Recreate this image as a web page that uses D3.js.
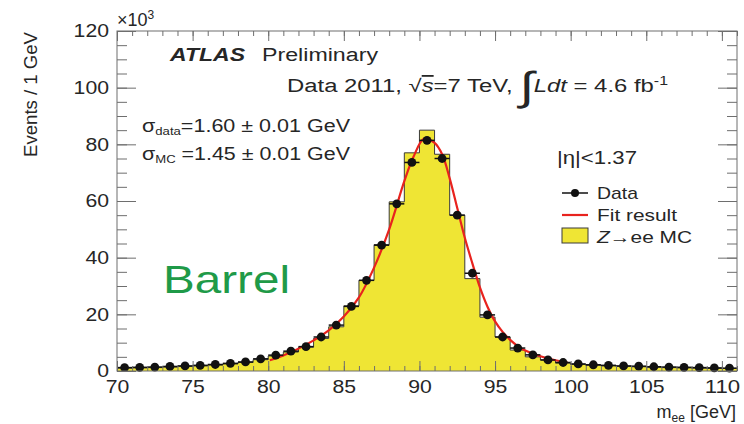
<!DOCTYPE html>
<html>
<head>
<meta charset="utf-8">
<script src="https://cdn.jsdelivr.net/npm/d3@7"></script>
<style>
  body { margin: 0; background: #fff; }
  svg { display: block; }
  text { font-family: "Liberation Sans", Arial, sans-serif; fill: #262626; }
</style>
</head>
<body>
<div id="chart"></div>
<script>
// bin centres of the 1 GeV histogram (m_ee in GeV)
const massBins = [70.5, 71.5, 72.5, 73.5, 74.5, 75.5, 76.5, 77.5, 78.5, 79.5,
    80.5, 81.5, 82.5, 83.5, 84.5, 85.5, 86.5, 87.5, 88.5, 89.5,
    90.5, 91.5, 92.5, 93.5, 94.5, 95.5, 96.5, 97.5, 98.5, 99.5,
    100.5, 101.5, 102.5, 103.5, 104.5, 105.5, 106.5, 107.5, 108.5, 109.5, 110.5];

// events per bin, x10^3
const dataCounts = [1.2, 1.3, 1.4, 1.6, 1.8, 2.0, 2.3, 2.7, 3.2, 4.3,
    5.6, 7.0, 8.6, 12.0, 16.2, 22.8, 32.0, 44.4, 59.0, 73.6,
    81.4, 75.0, 55.0, 34.5, 19.8, 12.0, 8.1, 5.7, 3.9, 3.0,
    2.5, 2.2, 2.0, 1.8, 1.7, 1.5, 1.4, 1.3, 1.2, 1.1, 1.0];

const mcCounts = [1.0, 1.1, 1.2, 1.4, 1.6, 1.8, 2.1, 2.5, 3.0, 4.0,
    5.3, 6.7, 8.4, 11.5, 15.6, 23.0, 32.0, 44.6, 59.7, 77.0,
    85.0, 76.5, 55.0, 32.6, 19.0, 12.0, 7.4, 5.0, 3.9, 2.8,
    2.3, 2.0, 1.8, 1.6, 1.5, 1.3, 1.2, 1.1, 1.0, 0.9, 0.9];

// fit curve
const fitMass   = [80.1, 81, 82, 83, 84, 85, 86, 87, 88, 89, 89.6, 90.3, 91, 91.5,
    92, 92.5, 93, 93.5, 94, 94.5, 95, 95.5, 96, 96.5, 97, 98, 99, 99.8];
const fitValues = [3.8, 5.5, 7.9, 10.8, 14.3, 19.2, 26.0, 36.5, 50.0, 67.0, 75.5, 82.0, 80.5, 76.5,
    68.0, 57.5, 47.0, 38.0, 29.5, 22.7, 17.5, 13.8, 11.0, 8.8, 7.2, 5.2, 3.8, 3.0];

const xMajorTicks = [70, 75, 80, 85, 90, 95, 100, 105, 110];
const yMajorTicks = [0, 20, 40, 60, 80, 100, 120];

const W = 744, H = 424;
const frame = {left: 117, right: 737, top: 31, bottom: 371};
const yellow = "#efe534";

const svg = d3.select("#chart").append("svg")
    .attr("width", W)
    .attr("height", H);

const x = d3.scaleLinear().domain([70, 111]).range([frame.left, frame.right]);
const y = d3.scaleLinear().domain([0, 120]).range([frame.bottom, frame.top]);

// MC histogram (filled step)
const histPts = [];
massBins.forEach((c, i) => {
    histPts.push([c - 0.5, mcCounts[i]]);
    histPts.push([c + 0.5, mcCounts[i]]);
});
const area = d3.area()
    .x(d => x(d[0]))
    .y0(y(0))
    .y1(d => y(d[1]));
svg.append("path")
    .attr("d", area(histPts))
    .attr("fill", yellow)
    .attr("stroke", "none");
svg.append("path")
    .attr("d", d3.line().x(d => x(d[0])).y(d => y(d[1]))(histPts))
    .attr("fill", "none")
    .attr("stroke", "#3a3a3a")
    .attr("stroke-width", 1);

// fit curve
svg.append("path")
    .datum(fitMass.map((m, i) => [m, fitValues[i]]))
    .attr("d", d3.line().x(d => x(d[0])).y(d => y(d[1])).curve(d3.curveCatmullRom))
    .attr("fill", "none")
    .attr("stroke", "#e8231e")
    .attr("stroke-width", 2.2);

// data points with bin-width bars
const pts = svg.append("g");
massBins.forEach((c, i) => {
    pts.append("line")
        .attr("x1", x(c - 0.5)).attr("x2", x(c + 0.5))
        .attr("y1", y(dataCounts[i])).attr("y2", y(dataCounts[i]))
        .attr("stroke", "#111").attr("stroke-width", 1.5);
    pts.append("circle")
        .attr("cx", x(c)).attr("cy", y(dataCounts[i]))
        .attr("r", 4.4)
        .attr("fill", "#111");
});

// axes
const axisColor = "#6e6e6e";
function styleAxis(g) {
    g.select(".domain").remove();
    g.selectAll("line").attr("stroke", axisColor);
    g.selectAll("text")
        .style("font-size", "18px")
        .attr("fill", "#262626")
        .attr("textLength", d => String(d).length * 11.8)
        .attr("lengthAdjust", "spacingAndGlyphs");
}
const xMinor = d3.range(70, 112, 1);
const yMinor = d3.range(0, 121, 5);

svg.append("g").attr("transform", `translate(0,${frame.bottom})`)
    .call(d3.axisBottom(x).tickValues(xMinor).tickSize(-5).tickFormat(""))
    .call(styleAxis);
svg.append("g").attr("transform", `translate(0,${frame.bottom})`)
    .call(d3.axisBottom(x).tickValues(xMajorTicks).tickSize(-10).tickPadding(9).tickFormat(d3.format("d")))
    .call(styleAxis);
svg.append("g").attr("transform", `translate(0,${frame.top})`)
    .call(d3.axisTop(x).tickValues(xMinor).tickSize(-5).tickFormat(""))
    .call(styleAxis);
svg.append("g").attr("transform", `translate(0,${frame.top})`)
    .call(d3.axisTop(x).tickValues(xMajorTicks).tickSize(-10).tickFormat(""))
    .call(styleAxis);

svg.append("g").attr("transform", `translate(${frame.left},0)`)
    .call(d3.axisLeft(y).tickValues(yMinor).tickSize(-10).tickFormat(""))
    .call(styleAxis);
svg.append("g").attr("transform", `translate(${frame.left},0)`)
    .call(d3.axisLeft(y).tickValues(yMajorTicks).tickSize(-19).tickPadding(8).tickFormat(d3.format("d")))
    .call(styleAxis);
svg.append("g").attr("transform", `translate(${frame.right},0)`)
    .call(d3.axisRight(y).tickValues(yMinor).tickSize(-10).tickFormat(""))
    .call(styleAxis);
svg.append("g").attr("transform", `translate(${frame.right},0)`)
    .call(d3.axisRight(y).tickValues(yMajorTicks).tickSize(-19).tickFormat(""))
    .call(styleAxis);

svg.append("rect")
    .attr("x", frame.left).attr("y", frame.top)
    .attr("width", frame.right - frame.left)
    .attr("height", frame.bottom - frame.top)
    .attr("fill", "none")
    .attr("stroke", axisColor)
    .attr("stroke-width", 1);

// helper: stretch text to the width measured on the reference
function fit(sel, w) {
    return sel.attr("textLength", w).attr("lengthAdjust", "spacingAndGlyphs");
}

// axis titles
svg.append("text")
    .attr("transform", `translate(37,${frame.top + 1}) rotate(-90)`)
    .attr("text-anchor", "end")
    .style("font-size", "18px")
    .call(fit, 125)
    .text("Events / 1 GeV");

const xt = svg.append("text")
    .attr("x", 736).attr("y", 418)
    .attr("text-anchor", "end")
    .style("font-size", "18px");
xt.append("tspan").text("m");
xt.append("tspan").attr("baseline-shift", "-30%").style("font-size", "12px").text("ee");
xt.append("tspan").text(" [GeV]");

const exp = svg.append("text")
    .attr("x", 117).attr("y", 26)
    .style("font-size", "18px");
exp.append("tspan").text("×10");
exp.append("tspan").attr("baseline-shift", "55%").style("font-size", "12px").text("3");

// labels
svg.append("text")
    .attr("x", 170).attr("y", 60.5)
    .style("font-size", "18px")
    .style("font-weight", "bold")
    .style("font-style", "italic")
    .call(fit, 75)
    .text("ATLAS");
svg.append("text")
    .attr("x", 262).attr("y", 60.5)
    .style("font-size", "18px")
    .call(fit, 116)
    .text("Preliminary");

const lumi = svg.append("text")
    .attr("x", 287).attr("y", 92)
    .style("font-size", "18px")
    .call(fit, 381);
lumi.append("tspan").text("Data 2011, √");
lumi.append("tspan").style("font-style", "italic").style("text-decoration", "overline").text("s");
lumi.append("tspan").text("=7 TeV, ");
lumi.append("tspan").style("font-size", "40px").attr("dy", 8).text("∫");
lumi.append("tspan").attr("dy", -8).style("font-style", "italic").text("Ldt");
lumi.append("tspan").text(" = 4.6 fb");
lumi.append("tspan").attr("baseline-shift", "55%").style("font-size", "12px").text("-1");

const sd = svg.append("text")
    .attr("x", 142).attr("y", 132)
    .style("font-size", "18px")
    .call(fit, 208);
sd.append("tspan").text("σ");
sd.append("tspan").attr("baseline-shift", "-30%").style("font-size", "11px").text("data");
sd.append("tspan").text("=1.60 ± 0.01 GeV");

const sm = svg.append("text")
    .attr("x", 142).attr("y", 160)
    .style("font-size", "18px")
    .call(fit, 208);
sm.append("tspan").text("σ");
sm.append("tspan").attr("baseline-shift", "-30%").style("font-size", "11px").text("MC");
sm.append("tspan").text(" =1.45 ± 0.01 GeV");

svg.append("text")
    .attr("x", 557).attr("y", 164)
    .style("font-size", "18px")
    .call(fit, 80)
    .text("|η|<1.37");

svg.append("text")
    .attr("x", 163).attr("y", 293)
    .style("font-size", "39px")
    .style("fill", "#1f9a48")
    .call(fit, 127)
    .text("Barrel");

// legend
const lg = svg.append("g");
lg.append("line").attr("x1", 562).attr("x2", 588).attr("y1", 193).attr("y2", 193)
    .attr("stroke", "#111").attr("stroke-width", 1.5);
lg.append("circle").attr("cx", 575).attr("cy", 193).attr("r", 4).attr("fill", "#111");
lg.append("text").attr("x", 597).attr("y", 199).style("font-size", "17px")
    .call(fit, 41).text("Data");

lg.append("line").attr("x1", 562).attr("x2", 588).attr("y1", 215).attr("y2", 215)
    .attr("stroke", "#e8231e").attr("stroke-width", 2.2);
lg.append("text").attr("x", 597).attr("y", 221).style("font-size", "17px")
    .call(fit, 80).text("Fit result");

lg.append("rect").attr("x", 562).attr("y", 228).attr("width", 26).attr("height", 15)
    .attr("fill", yellow).attr("stroke", "#3a3a3a").attr("stroke-width", 1);
const zl = lg.append("text").attr("x", 597).attr("y", 243).style("font-size", "17px")
    .call(fit, 95);
zl.append("tspan").style("font-style", "italic").text("Z");
zl.append("tspan").text("→ee MC");
</script>
</body>
</html>
